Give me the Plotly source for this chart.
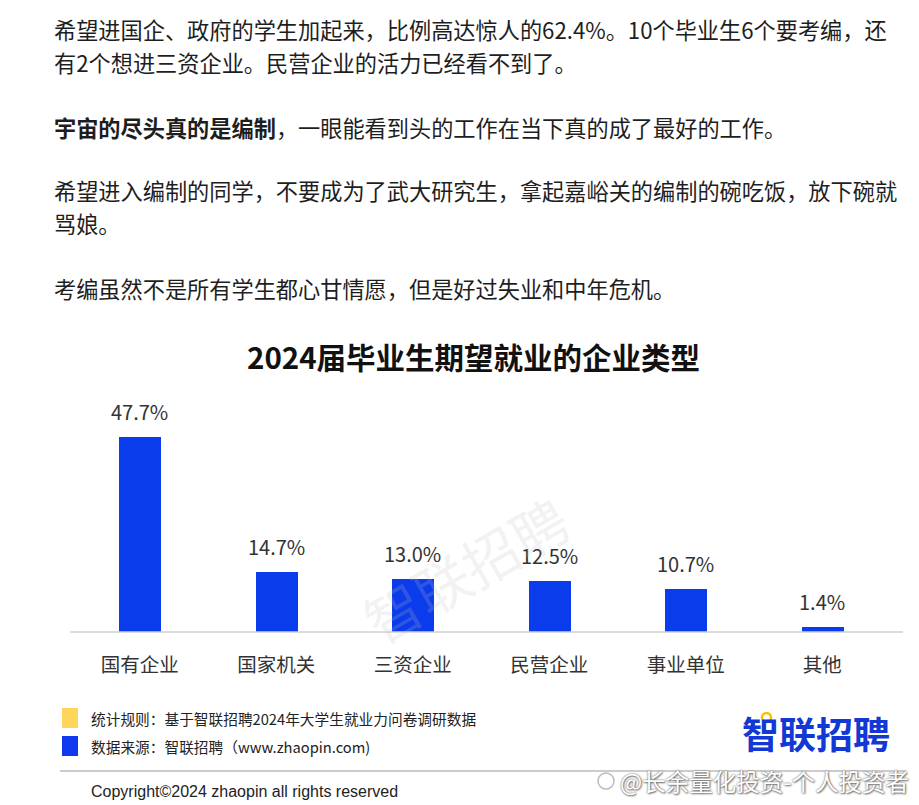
import plotly.graph_objects as go

W, H = 919, 805

# ---- data ----
categories = ["国有企业", "国家机关", "三资企业", "民营企业", "事业单位", "其他"]
values = [47.7, 14.7, 13.0, 12.5, 10.7, 1.4]
value_labels = ["47.7%", "14.7%", "13.0%", "12.5%", "10.7%", "1.4%"]

title_text = "2024届毕业生期望就业的企业类型"
article_lines = [
    "希望进国企、政府的学生加起来，比例高达惊人的62.4%。10个毕业生6个要考编，还",
    "有2个想进三资企业。民营企业的活力已经看不到了。",
    "<b>宇宙的尽头真的是编制</b>，一眼能看到头的工作在当下真的成了最好的工作。",
    "希望进入编制的同学，不要成为了武大研究生，拿起嘉峪关的编制的碗吃饭，放下碗就",
    "骂娘。",
    "考编虽然不是所有学生都心甘情愿，但是好过失业和中年危机。",
]
article_y = [29, 62, 127, 190, 223, 288]
legend_items = ["统计规则：基于智联招聘2024年大学生就业力问卷调研数据",
                "数据来源：智联招聘（www.zhaopin.com)"]
legend_colors = ["#FFD55C", "#1038F0"]
copyright_text = "Copyright©2024 zhaopin all rights reserved"
logo_text = "智联招聘"
weibo_text = "@长余量化投资-个人投资者"
watermark_text = "智联招聘"

CJK = "Noto Sans CJK SC"
BAR_BLUE = "#0A3CEB"

def px(x):
    return x / W

def py(y):
    return 1 - y / H

# plot area geometry
base_y = 632
ppu = 195 / 47.7
ymax = 60
top_y = base_y - ymax * ppu
x_left, x_right = 71.5, 890.5

fig = go.Figure()
fig.add_trace(go.Bar(
    x=categories, y=values, width=0.31,
    marker=dict(color=BAR_BLUE, line=dict(width=0)),
    hoverinfo="skip",
))

annotations = []
# value labels
for c, v, t in zip(categories, values, value_labels):
    annotations.append(dict(x=c, y=v, xref="x", yref="y", text=t, showarrow=False,
                            yanchor="middle", yshift=25,
                            font=dict(family=CJK, size=20, color="#333333")))

# article text
for line, y in zip(article_lines, article_y):
    annotations.append(dict(x=px(52), y=py(y), xref="paper", yref="paper", text=line,
                            showarrow=False, xanchor="left", yanchor="middle",
                            font=dict(family=CJK, size=22.2, color="#1e1e1e")))

# title
annotations.append(dict(x=px(474), y=py(356), xref="paper", yref="paper",
                        text="<b>" + title_text + "</b>", showarrow=False,
                        xanchor="center", yanchor="middle",
                        font=dict(family=CJK, size=29.5, color="#111111")))

# watermark
annotations.append(dict(x=px(465), y=py(568), xref="paper", yref="paper",
                        text=watermark_text, showarrow=False, textangle=-30,
                        xanchor="center", yanchor="middle",
                        font=dict(family=CJK, size=56, color="rgba(190,190,190,0.2)")))

# legend
legend_y = [718, 746]
shapes = []
for txt, col, y in zip(legend_items, legend_colors, legend_y):
    shapes.append(dict(type="rect", xref="paper", yref="paper",
                       x0=px(62), x1=px(78), y0=py(y - 10), y1=py(y + 10),
                       fillcolor=col, line=dict(width=0)))
    annotations.append(dict(x=px(89), y=py(y), xref="paper", yref="paper", text=txt,
                            showarrow=False, xanchor="left", yanchor="middle",
                            font=dict(family=CJK, size=14.7, color="#222222")))

# separator line
shapes.append(dict(type="line", xref="paper", yref="paper", x0=px(60), x1=px(906),
                   y0=py(771), y1=py(771), line=dict(color="#9a9a9a", width=1.2)))

# baseline
shapes.append(dict(type="line", xref="paper", yref="paper", x0=px(70), x1=px(903),
                   y0=py(base_y), y1=py(base_y), line=dict(color="#d0d0d0", width=1.5)))

# copyright
annotations.append(dict(x=px(89), y=py(791), xref="paper", yref="paper", text=copyright_text,
                        showarrow=False, xanchor="left", yanchor="middle",
                        font=dict(family="Liberation Sans", size=16, color="#222222")))

# logo
annotations.append(dict(x=px(740), y=py(733), xref="paper", yref="paper",
                        text="<b>" + logo_text + "</b>", showarrow=False,
                        xanchor="left", yanchor="middle",
                        font=dict(family=CJK, size=37, color="#1238D6")))
shapes.append(dict(type="circle", xref="paper", yref="paper",
                   x0=px(762), x1=px(771), y0=py(722), y1=py(713),
                   fillcolor="white", line=dict(color="#F5C400", width=2.5)))

# weibo watermark
annotations.append(dict(x=px(911), y=py(781), xref="paper", yref="paper", text=weibo_text,
                        showarrow=False, xanchor="right", yanchor="middle",
                        font=dict(family=CJK, size=23.5, color="#ffffff",
                                  shadow="0px 0px 2px #555, 1px 1px 2px #777")))
shapes.append(dict(type="circle", xref="paper", yref="paper",
                   x0=px(598), x1=px(614), y0=py(789), y1=py(773),
                   fillcolor="rgba(0,0,0,0)", line=dict(color="#bbbbbb", width=1.5)))

fig.update_layout(
    width=W, height=H,
    margin=dict(l=0, r=0, t=0, b=0),
    paper_bgcolor="white", plot_bgcolor="white",
    showlegend=False,
    bargap=0,
    xaxis=dict(domain=[px(x_left), px(x_right)], range=[-0.5, 5.5],
               showgrid=False, zeroline=False, showline=False, ticks="",
               ticklabelstandoff=19,
               tickfont=dict(family=CJK, size=19.5, color="#333333"), fixedrange=True),
    yaxis=dict(domain=[py(base_y), py(top_y)], range=[0, ymax], visible=False,
               showgrid=False, zeroline=False, fixedrange=True),
    annotations=annotations,
    shapes=shapes,
)

fig.write_html("out.html")
